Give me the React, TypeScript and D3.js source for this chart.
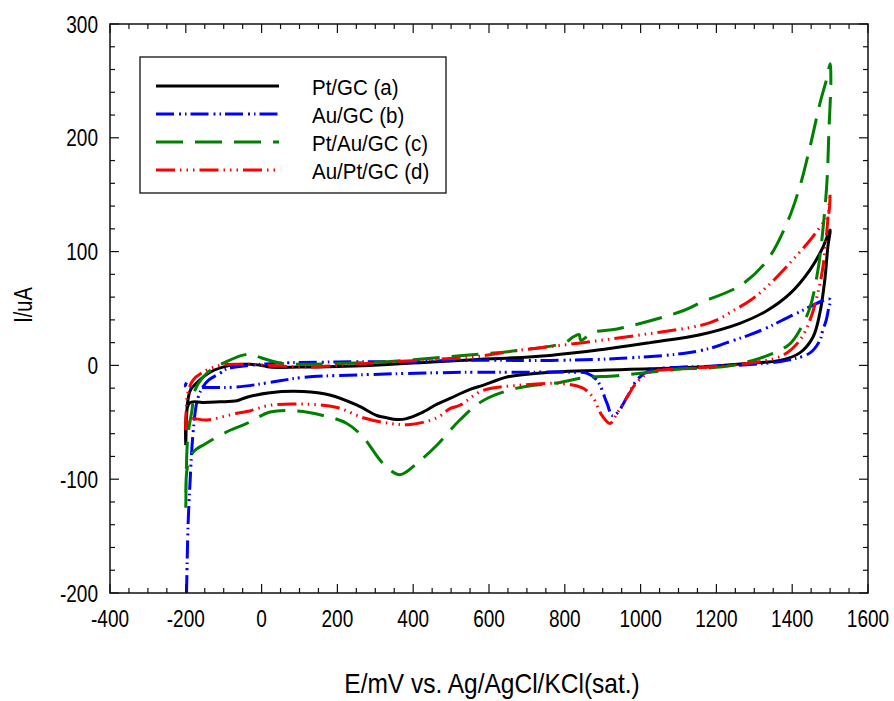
import React from 'react';
import * as d3 from 'd3';

// Cyclic voltammograms, points as [E (mV), I (uA)] in scan order
const ptGc: [number, number][] = [
  [-200, -70], [-198, -45], [-195, -32], [-188, -22], [-170, -15], [-136, -6], [-83, 0], [-31, 1],
  [0, 0], [22, -1.5], [100, -1.5], [286, 0], [450, 3], [550, 4.8], [761, 8.8], [900, 14], [1025, 20],
  [1157, 27], [1262, 37], [1333, 48], [1394, 63], [1447, 84], [1480, 103], [1500, 119],
  [1494, 104], [1486, 75], [1473, 46], [1455, 25], [1420, 11], [1368, 4.4], [1289, 2], [1157, -1.5],
  [1025, -3], [761, -6], [650, -10], [584, -17.6], [550, -21], [497, -29], [463, -34], [420, -42],
  [380, -47], [357, -47.5], [330, -46], [304, -44], [252, -35], [180, -26], [109, -23], [22, -24],
  [-39, -28], [-65, -31], [-110, -32], [-155, -32.5], [-190, -33], [-200, -70],
];

const auGc: [number, number][] = [
  [-198, -200], [-194, -140], [-189, -104], [-181, -60], [-170, -31], [-157, -20], [-140, -13],
  [-110, -7], [-91, -3], [-31, 0], [41, 2], [200, 3], [400, 3.5], [550, 4.5], [761, 4.4],
  [938, 6], [1112, 10.5], [1183, 15], [1228, 20], [1289, 27], [1333, 33], [1413, 46], [1500, 58],
  [1496, 50], [1490, 40], [1480, 30], [1473, 22], [1447, 11], [1386, 4.4], [1297, 1], [1157, -1],
  [1112, -1.5], [1025, -4.4], [990, -13], [964, -28], [938, -42], [925, -44], [911, -33], [885, -13],
  [859, -7], [814, -6], [674, -6], [550, -6], [286, -8], [109, -10.6], [22, -15], [-65, -19],
  [-155, -19.5], [-194, -20], [-201, -18], [-198, -15],
];

const ptAuGc: [number, number][] = [
  [-200, -125], [-199, -100], [-197, -75], [-194, -60], [-184, -40], [-176, -22], [-155, -10.5],
  [-128, -2.6], [-97, 2.6], [-52, 8.8], [-25, 9.7], [-4, 7], [49, 2], [109, 1], [286, 2.6], [400, 5],
  [531, 8.8], [674, 13], [800, 20], [822, 25], [838, 27], [842, 22], [874, 29], [938, 32], [1112, 48],
  [1157, 55], [1262, 70], [1333, 92], [1386, 125], [1420, 157], [1447, 192], [1473, 230], [1492, 253],
  [1500, 265], [1502, 250], [1497, 207], [1492, 163], [1481, 119], [1468, 84], [1447, 51], [1420, 31],
  [1394, 19], [1349, 10.5], [1244, 0], [1157, -2.6], [1112, -3], [938, -9], [848, -11], [787, -15],
  [674, -20], [584, -31], [523, -48], [463, -70], [410, -86], [365, -96], [320, -86], [268, -63],
  [225, -51], [162, -44], [93, -40], [22, -41], [-39, -51], [-83, -57], [-149, -69], [-180, -76],
  [-196, -90], [-200, -125],
];

const auPtGc: [number, number][] = [
  [-200, -57], [-199, -40], [-195, -25], [-181, -13], [-155, -6], [-110, 0], [-49, 1], [22, 0],
  [109, -1.5], [286, 2], [497, 6], [550, 7], [674, 13], [848, 20], [1025, 28], [1157, 35],
  [1202, 40], [1244, 48], [1289, 57], [1333, 69], [1394, 90], [1447, 110], [1481, 125], [1494, 130],
  [1500, 151], [1496, 136], [1490, 113], [1480, 84], [1465, 60], [1447, 40], [1420, 22], [1376, 9],
  [1289, 2], [1157, -2], [1112, -3], [1025, -6], [990, -15], [964, -28], [938, -42], [919, -51],
  [898, -44], [874, -28], [848, -20], [795, -16], [674, -17.6], [584, -22], [523, -35], [497, -38],
  [463, -46], [392, -52], [339, -51], [268, -46], [199, -37], [109, -34], [22, -35], [-31, -40],
  [-65, -42], [-144, -48], [-189, -47], [-198, -52], [-200, -57],
];

const seriesNames = ['Pt/GC (a)', 'Au/GC (b)', 'Pt/Au/GC (c)', 'Au/Pt/GC (d)'];
const seriesColors = ['#000000', '#0000ff', '#008000', '#ff0000'];
const seriesDashes = ['none', '18,5,2,4,1.5,4', '27,12', '19,5,1.5,5,1.5,5,1.5,5'];
const seriesData = [ptGc, auGc, ptAuGc, auPtGc];

const xTicks = [-400, -200, 0, 200, 400, 600, 800, 1000, 1200, 1400, 1600];
const yTicks = [-200, -100, 0, 100, 200, 300];

const App = () => {
  const width = 894;
  const height = 701;
  const left = 110, right = 868, top = 24, bottom = 593;

  const x = d3.scaleLinear().domain([-400, 1600]).range([left, right]);
  const y = d3.scaleLinear().domain([-200, 300]).range([bottom, top]);

  const line = d3.line<[number, number]>()
    .x(d => x(d[0]))
    .y(d => y(d[1]))
    .curve(d3.curveCatmullRom.alpha(0.5));

  const xMinor = d3.range(-400, 1601, 50);
  const yMinor = d3.range(-200, 301, 20);
  const font = '"Liberation Sans", Arial, sans-serif';
  // the original text is a bit taller than it is wide
  const tickStretch = 1.28;

  return (
    <div style={{ position: 'absolute', left: 0, top: 0 }}>
      <svg width={width} height={height} style={{ display: 'block', background: '#fff' }}>
        <defs>
          <clipPath id="plot">
            <rect x={left} y={top} width={right - left} height={bottom - top} />
          </clipPath>
        </defs>

        {/* curves */}
        <g clipPath="url(#plot)">
          {seriesData.map((s, i) => (
            <path key={i} d={line(s) || ''} fill="none" stroke={seriesColors[i]}
              strokeWidth={3} strokeDasharray={seriesDashes[i]} strokeLinejoin="round" />
          ))}
        </g>

        {/* frame */}
        <rect x={left} y={top} width={right - left} height={bottom - top} fill="none" stroke="#111" strokeWidth={1.5} />

        {/* ticks, all inside */}
        {xMinor.map(v => {
          const len = v % 200 === 0 ? 9 : 5;
          return (
            <g key={'xm' + v} stroke="#111" strokeWidth={1.2}>
              <line x1={x(v)} x2={x(v)} y1={bottom} y2={bottom - len} />
              <line x1={x(v)} x2={x(v)} y1={top} y2={top + len} />
            </g>
          );
        })}
        {yMinor.map(v => {
          const len = v % 100 === 0 ? 9 : 5;
          return (
            <g key={'ym' + v} stroke="#111" strokeWidth={1.2}>
              <line x1={left} x2={left + len} y1={y(v)} y2={y(v)} />
              <line x1={right} x2={right - len} y1={y(v)} y2={y(v)} />
            </g>
          );
        })}

        {/* tick labels */}
        {xTicks.map(v => (
          <text key={'xt' + v} transform={`translate(${x(v)},627) scale(1,${tickStretch})`} textAnchor="middle"
            fontFamily={font} fontSize={19} fill="#000">
            {v}
          </text>
        ))}
        {yTicks.map(v => (
          <text key={'yt' + v} transform={`translate(98,${y(v) + 8.5}) scale(1,${tickStretch})`} textAnchor="end"
            fontFamily={font} fontSize={19} fill="#000">
            {v}
          </text>
        ))}

        {/* axis titles */}
        <text transform="translate(492,693) scale(1,1.1)" textAnchor="middle" fontFamily={font} fontSize={24.5} fill="#000">
          E/mV vs. Ag/AgCl/KCl(sat.)
        </text>
        <text transform="translate(32,305) rotate(-90) scale(1,1.27)" textAnchor="middle" fontFamily={font} fontSize={20} fill="#000">
          I/uA
        </text>

        {/* legend */}
        <rect x={140} y={57} width={306} height={136} fill="#fff" stroke="#111" strokeWidth={1.3} />
        {seriesNames.map((n, i) => {
          const ly = 86 + i * 28;
          return (
            <g key={n}>
              <line x1={156} x2={279} y1={ly} y2={ly} stroke={seriesColors[i]} strokeWidth={3}
                strokeDasharray={seriesDashes[i]} />
              <text transform={`translate(312,${ly + 9}) scale(1,1.12)`} fontFamily={font} fontSize={20.5} fill="#000">{n}</text>
            </g>
          );
        })}
      </svg>
    </div>
  );
};

export default App;
